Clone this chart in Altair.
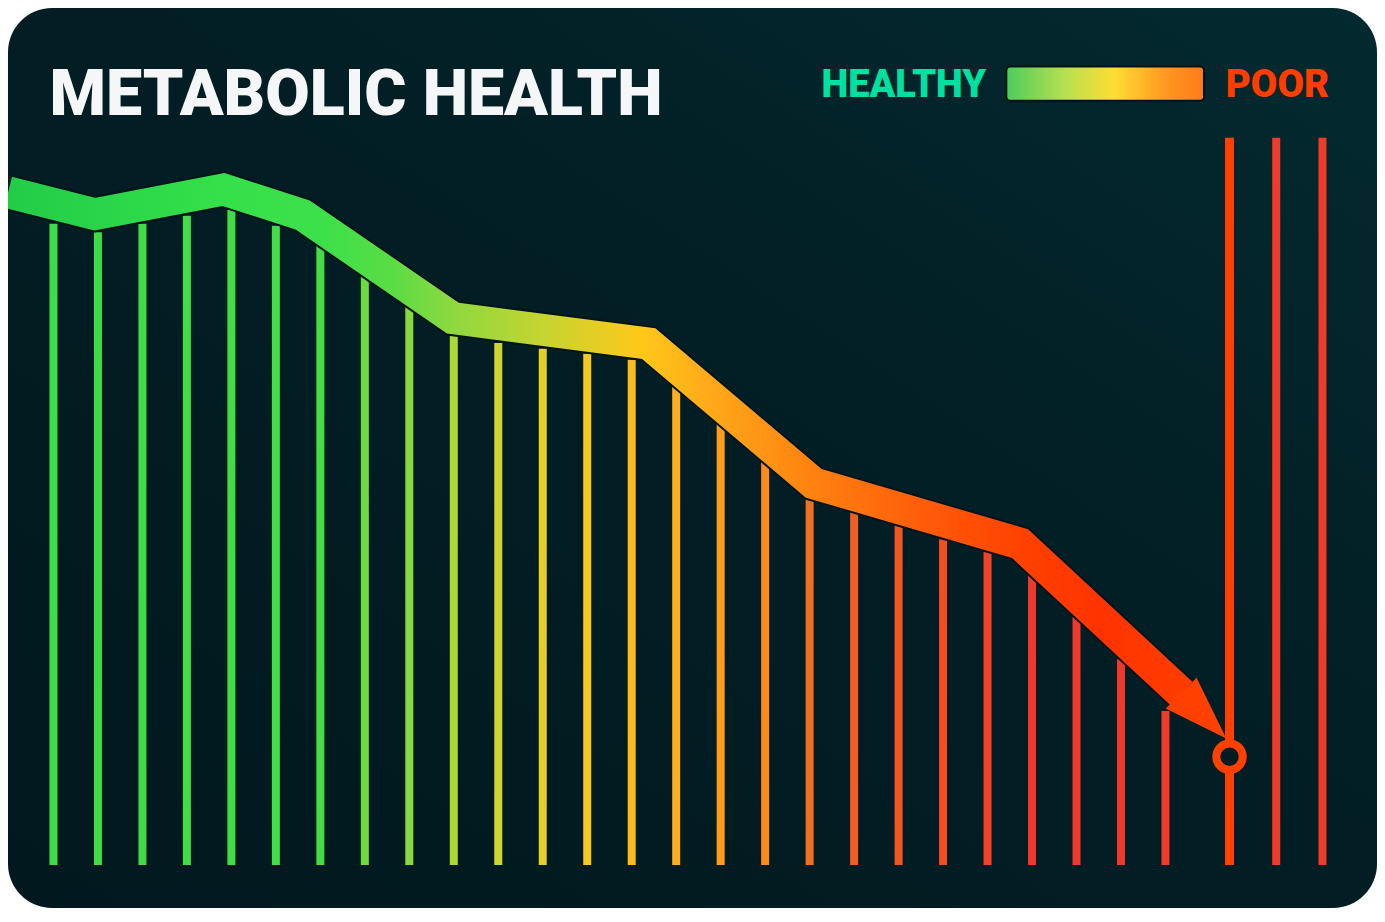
import math
import altair as alt
import pandas as pd

W, H = 1369, 900
SX, SY = W / 1385, H / 922   # reference-pixel to chart-pixel factors (text/legend only)

# ---- data -------------------------------------------------------------
# x: week index, y: metabolic health score (0 = baseline, 100 = top)
weeks = list(range(26))
scores = [88.2, 87.0, 88.2, 89.3, 90.1, 87.9, 85.5, 81.3, 76.8, 72.8,
          71.8, 71.0, 70.3, 69.5, 65.8, 60.9, 55.7, 50.6, 48.5, 46.7,
          44.8, 43.1, 40.3, 34.2, 28.3, 21.2]
late_weeks = [27.49, 28.53]
late_scores = [100, 100]
current_week = 26.44
current_score = 100
marker_score = 14.9

trend_weeks = [-1.02, 0.93, 3.82, 5.6, 8.98, 13.38, 17.09, 21.73, 25.36]
trend_scores = [92.5, 89.5, 92.9, 89.4, 75.2, 71.7, 52.5, 44.2, 23.6]
tip_week, tip_score = 26.36, 17.45

title_text = "METABOLIC HEALTH"
legend_low = "HEALTHY"
legend_high = "POOR"

# ---- scales -----------------------------------------------------------
XDOM = [-1.0222, 29.7556]
YDOM = [-5.906, 117.852]
xs = alt.Scale(domain=XDOM, range=[0, W], nice=False, zero=False)
ys = alt.Scale(domain=YDOM, range=[H, 0], nice=False, zero=False)
px_x = W / (XDOM[1] - XDOM[0])
px_y = H / (YDOM[1] - YDOM[0])

bars = pd.DataFrame({"week": weeks + late_weeks, "score": scores + late_scores,
                     "base": [0] * (len(weeks) + len(late_weeks))})
trend = pd.DataFrame({"week": trend_weeks, "score": trend_scores})
cur = pd.DataFrame({"week": [current_week], "score": [current_score],
                    "m": [marker_score], "base": [0]})

bx, by = trend_weeks[-1], trend_scores[-1]
head = pd.DataFrame({"week": [(bx + tip_week) / 2], "score": [(by + tip_score) / 2]})
ang = math.degrees(math.atan2((by - tip_score) * px_y, (tip_week - bx) * px_x))

one = pd.DataFrame({"t": [title_text], "a": [legend_low], "b": [legend_high]})

bg = alt.LinearGradient(
    gradient="linear", x1=0, y1=1, x2=1, y2=0,
    stops=[alt.GradientStop(offset=0, color="#01181e"),
           alt.GradientStop(offset=0.6, color="#021f25"),
           alt.GradientStop(offset=1, color="#032a30")])

card = alt.Chart(one).mark_rect(fill=bg, cornerRadius=44, strokeWidth=0).encode(
    x=alt.value(0), x2=alt.value(W), y=alt.value(0), y2=alt.value(H))

rule_colors = alt.Scale(
    domain=[0, 6, 8, 10, 12, 14, 16, 17, 18, 20, 22, 28.6],
    range=['#3ddc4a', '#44dd44', '#88d840', '#cfd530', '#f6c820', '#ffae20',
           '#ff8a18', '#ee7020', '#ef5e22', '#f54c22', '#f0382c', '#f03a2a'],
    clamp=True)

rules = alt.Chart(bars).mark_rule(strokeWidth=8, strokeCap="butt").encode(
    x=alt.X("week:Q", scale=xs, axis=None),
    y=alt.Y("score:Q", scale=ys, axis=None),
    y2="base:Q",
    color=alt.Color("week:Q", scale=rule_colors, legend=None),
)

cur_rule = alt.Chart(cur).mark_rule(strokeWidth=9, color="#ff4000", strokeCap="butt").encode(
    x=alt.X("week:Q", scale=xs, axis=None),
    y=alt.Y("score:Q", scale=ys, axis=None),
    y2="base:Q",
)

band_grad = alt.LinearGradient(
    gradient="linear", x1=0, y1=0, x2=1, y2=0,
    stops=[alt.GradientStop(offset=0.0, color="#22cc48"),
           alt.GradientStop(offset=0.18, color="#35e04a"),
           alt.GradientStop(offset=0.27, color="#3de04a"),
           alt.GradientStop(offset=0.33, color="#5cdc44"),
           alt.GradientStop(offset=0.38, color="#8fd840"),
           alt.GradientStop(offset=0.46, color="#c8d430"),
           alt.GradientStop(offset=0.54, color="#ffc81a"),
           alt.GradientStop(offset=0.60, color="#ffa81a"),
           alt.GradientStop(offset=0.68, color="#ff8410"),
           alt.GradientStop(offset=0.78, color="#ff5c0a"),
           alt.GradientStop(offset=0.87, color="#ff4000"),
           alt.GradientStop(offset=0.93, color="#ff3300"),
           alt.GradientStop(offset=1.0, color="#ff3c00")])

band_edge = alt.Chart(trend).mark_line(stroke="#01141a", strokeWidth=36, strokeJoin="miter", strokeCap="butt").encode(
    x=alt.X("week:Q", scale=xs, axis=None),
    y=alt.Y("score:Q", scale=ys, axis=None),
)
band = alt.Chart(trend).mark_line(stroke=band_grad, strokeWidth=32, strokeJoin="miter", strokeCap="butt").encode(
    x=alt.X("week:Q", scale=xs, axis=None),
    y=alt.Y("score:Q", scale=ys, axis=None),
)

arrow = alt.Chart(head).mark_point(
    shape="M 1 0 L -1 -0.68 L -1 0.68 Z", size=4100, filled=True,
    fill="#ff4000", strokeWidth=0, opacity=1, angle=ang).encode(
    x=alt.X("week:Q", scale=xs, axis=None),
    y=alt.Y("score:Q", scale=ys, axis=None),
)

marker = alt.Chart(cur).mark_point(
    shape="circle", size=700, filled=True, fill="#021c22", stroke="#ff4000",
    strokeWidth=8, opacity=1).encode(
    x=alt.X("week:Q", scale=xs, axis=None),
    y=alt.Y("m:Q", scale=ys, axis=None),
)

title = alt.Chart(one).mark_text(
    font="Roboto", fontWeight=900, fontSize=64.5, color="#f5f6f8",
    align="left", baseline="alphabetic").encode(
    text="t:N", x=alt.value(42 * SX), y=alt.value(110 * SY))

low = alt.Chart(one).mark_text(
    font="Roboto", fontWeight=900, fontSize=38, color="#00e0a0",
    align="left", baseline="alphabetic").encode(
    text="a:N", x=alt.value(823 * SX), y=alt.value(91 * SY))

high = alt.Chart(one).mark_text(
    font="Roboto", fontWeight=900, fontSize=38.5, color="#ff3d00",
    align="left", baseline="alphabetic").encode(
    text="b:N", x=alt.value(1232 * SX), y=alt.value(91 * SY))

leg_grad = alt.LinearGradient(
    gradient="linear", x1=0, y1=0, x2=1, y2=0,
    stops=[alt.GradientStop(offset=0.0, color="#4ccc5c"),
           alt.GradientStop(offset=0.3, color="#b8e050"),
           alt.GradientStop(offset=0.55, color="#ffdd33"),
           alt.GradientStop(offset=0.8, color="#ff9922"),
           alt.GradientStop(offset=1.0, color="#ff7a18")])

legbar = alt.Chart(one).mark_rect(
    fill=leg_grad, cornerRadius=4, stroke="#01121a", strokeWidth=2).encode(
    x=alt.value(1010 * SX), x2=alt.value(1210 * SX),
    y=alt.value(60 * SY), y2=alt.value(95 * SY))

chart = alt.layer(
    card, rules, cur_rule, band_edge, band, arrow, marker, title, low, high, legbar
).properties(
    width=W, height=H, padding=0, background="white",
    autosize=alt.AutoSizeParams(type="none")
).configure_view(
    strokeWidth=0
)

chart.save("out.html", embed_options={"renderer": "svg", "actions": False})
